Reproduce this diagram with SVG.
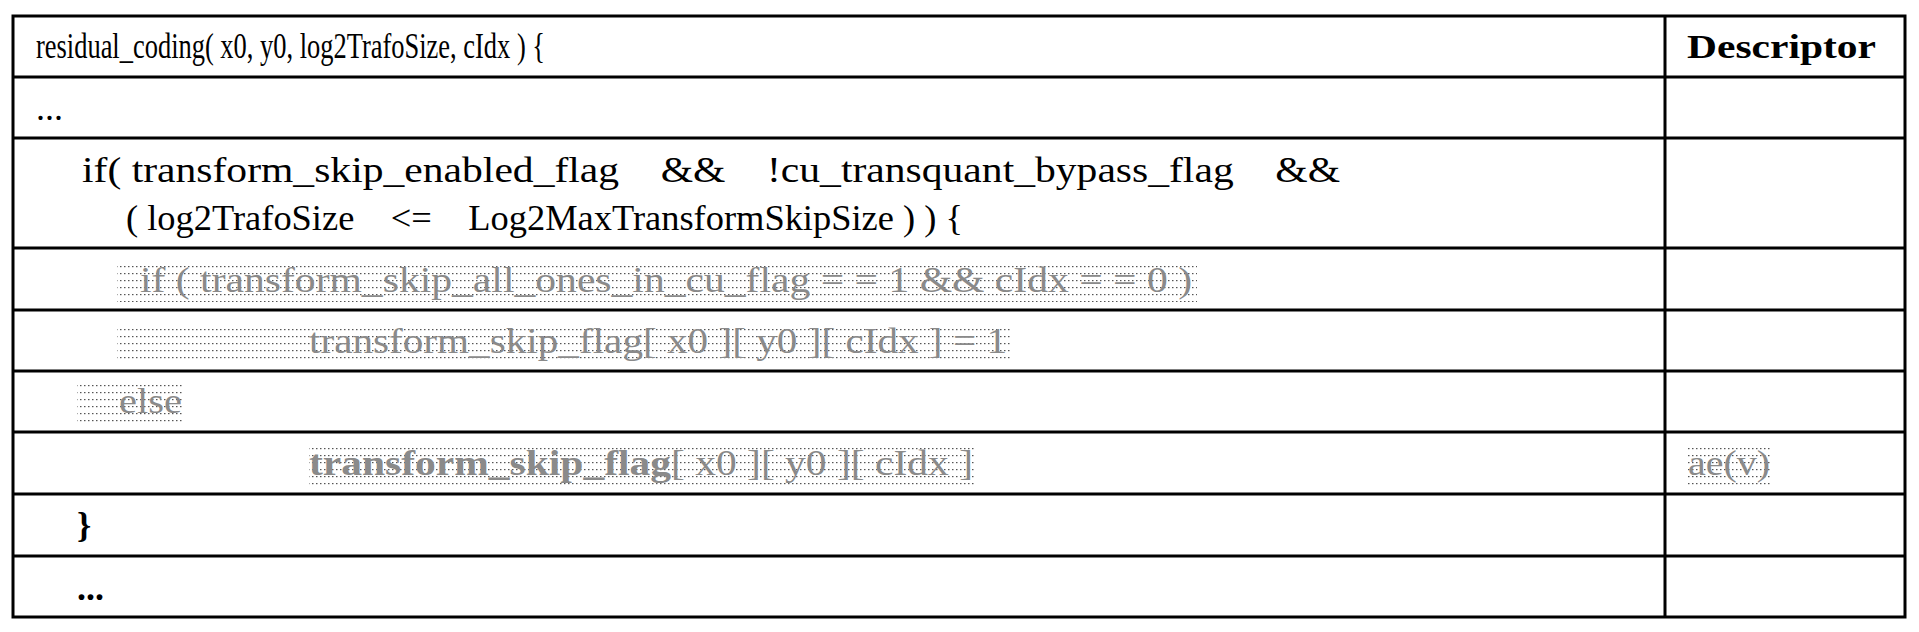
<svg xmlns="http://www.w3.org/2000/svg" width="1919" height="632" viewBox="0 0 1919 632">
<style>
text{font-family:"Liberation Serif","Times New Roman",serif;font-size:36px;fill:#000;white-space:pre}
.g{fill:#8a8a8a}
.b{font-weight:bold}
.ln{stroke:#000;stroke-width:3}
.hl{fill:url(#dots)}
</style>
<defs>
<pattern id="dots" width="4" height="7" patternUnits="userSpaceOnUse">
<rect x="0" y="0" width="1.5" height="1.2" fill="#555"/>
</pattern>
</defs>
<rect width="1919" height="632" fill="#fff"/>
<g id="connectors">
<rect x="13" y="16" width="1892" height="601" fill="none" stroke="#000" stroke-width="3"/>
<line class="ln" x1="1665" y1="16" x2="1665" y2="617" stroke-width="4"/>
<line class="ln" x1="13" y1="77" x2="1905" y2="77"/>
<line class="ln" x1="13" y1="138" x2="1905" y2="138"/>
<line class="ln" x1="13" y1="248" x2="1905" y2="248"/>
<line class="ln" x1="13" y1="310" x2="1905" y2="310"/>
<line class="ln" x1="13" y1="371" x2="1905" y2="371"/>
<line class="ln" x1="13" y1="432" x2="1905" y2="432"/>
<line class="ln" x1="13" y1="494" x2="1905" y2="494"/>
<line class="ln" x1="13" y1="556" x2="1905" y2="556"/>
</g>
<g id="header"><text x="36" y="58" textLength="509" lengthAdjust="spacingAndGlyphs">residual_coding( x0, y0, log2TrafoSize, cIdx ) {</text><text class="b" x="1687" y="58" textLength="189" lengthAdjust="spacingAndGlyphs" style="font-size:34px">Descriptor</text></g>
<g id="row1"><text x="36" y="120">...</text></g>
<g id="row2"><text x="82" y="182" textLength="1258" lengthAdjust="spacingAndGlyphs" xml:space="preserve">if( transform_skip_enabled_flag    &amp;&amp;    !cu_transquant_bypass_flag    &amp;&amp;</text><text x="126" y="230" textLength="837" lengthAdjust="spacingAndGlyphs" xml:space="preserve">( log2TrafoSize    &lt;=    Log2MaxTransformSkipSize ) ) {</text></g>
<g id="row3"><rect class="hl" x="117" y="264" width="1080" height="38"/><text class="g" x="140" y="292" textLength="1052" lengthAdjust="spacingAndGlyphs">if ( transform_skip_all_ones_in_cu_flag = = 1 &amp;&amp; cIdx = = 0 )</text></g>
<g id="row4"><rect class="hl" x="117" y="325" width="893" height="38"/><text class="g" x="309" y="353" textLength="698" lengthAdjust="spacingAndGlyphs">transform_skip_flag[ x0 ][ y0 ][ cIdx ] = 1</text></g>
<g id="row5"><rect class="hl" x="77" y="385" width="107" height="38"/><text class="g" x="119" y="413" textLength="63" lengthAdjust="spacingAndGlyphs">else</text></g>
<g id="row6"><rect class="hl" x="309" y="447" width="666" height="38"/><text class="g" x="309" y="475" textLength="664" lengthAdjust="spacingAndGlyphs"><tspan class="b">transform_skip_flag</tspan>[ x0 ][ y0 ][ cIdx ]</text><rect class="hl" x="1687" y="447" width="85" height="38"/><text class="g" x="1688" y="475" textLength="82" lengthAdjust="spacingAndGlyphs">ae(v)</text></g>
<g id="row7"><text class="b" x="77" y="537">}</text></g>
<g id="row8"><text class="b" x="77" y="600">...</text></g>
</svg>
